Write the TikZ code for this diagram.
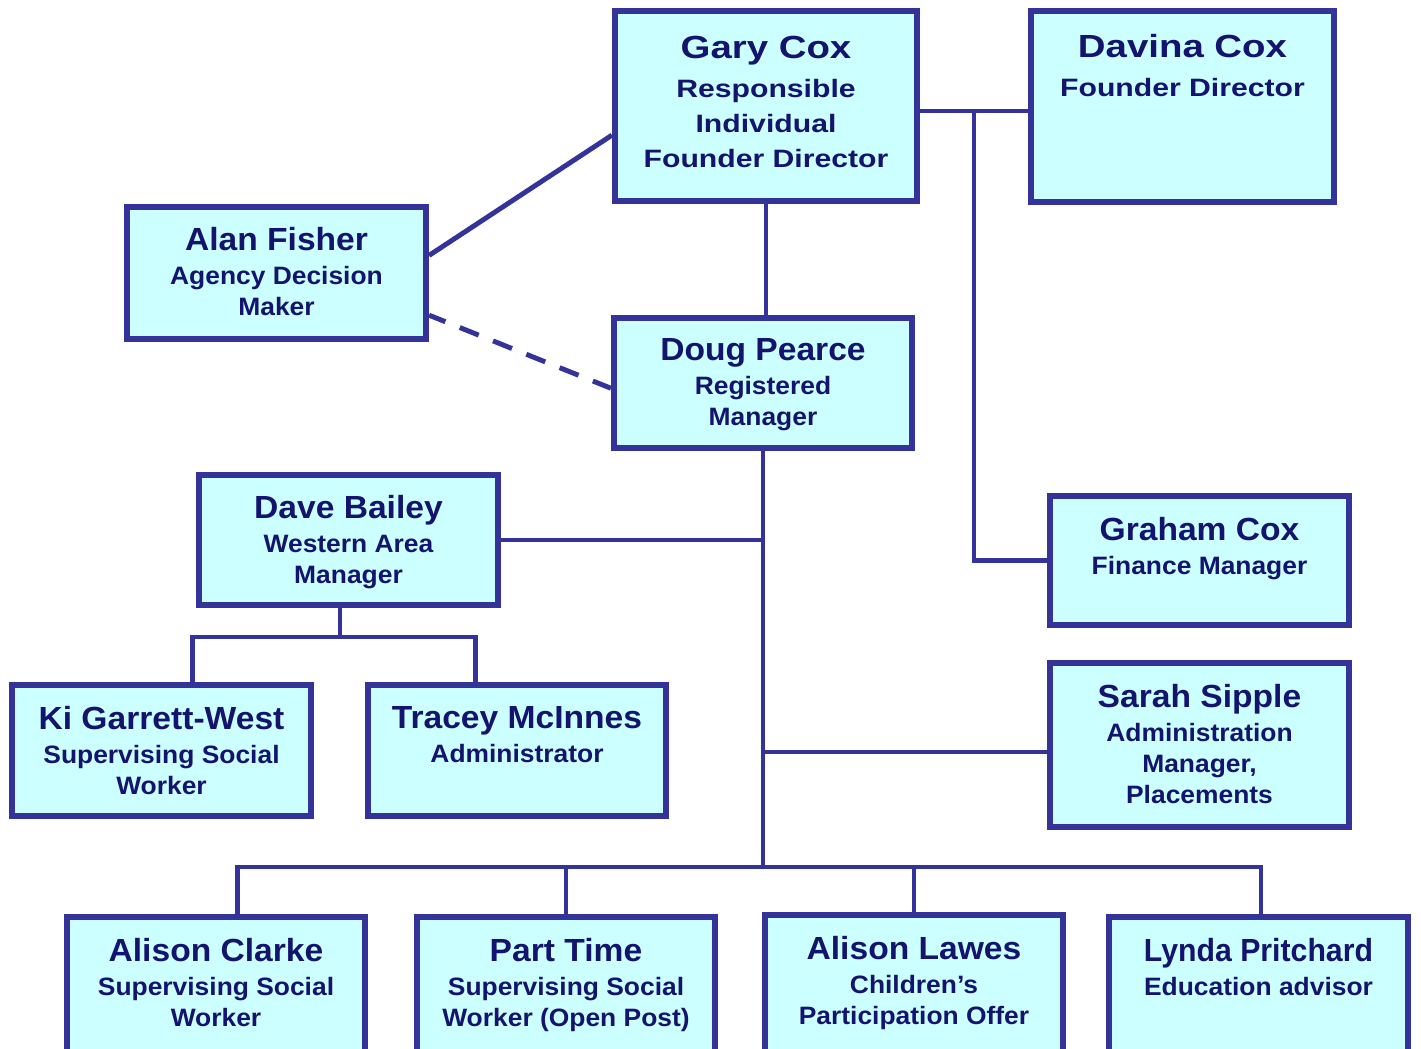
\documentclass[tikz,border=0pt]{standalone}
\usepackage{graphicx}
\usepackage{fontspec}
\newfontfamily\orgfont{Liberation Sans}[FakeStretch=1.05]
\newfontfamily\orgwide{Liberation Sans}[FakeStretch=1.2]
\usetikzlibrary{positioning}
\definecolor{bordc}{HTML}{333399}
\definecolor{boxc}{HTML}{CCFFFF}
\definecolor{inkc}{HTML}{14146E}
\newcommand\who[1]{{\fontsize{9.1}{9.7}\selectfont #1}}

\begin{document}
\begin{tikzpicture}[x=0.01cm, y=-0.01cm,
  box/.style={draw=bordc, fill=boxc, line width=1.7pt, inner sep=0pt},
  txt/.style={align=center, inner sep=0pt, text=inkc, font=\orgfont\bfseries\fontsize{7.15}{8.8}\selectfont},
  wide/.style={font=\orgwide\bfseries\fontsize{7.15}{10}\selectfont},
  link/.style={draw=bordc, line width=1.4pt},
  dashlink/.style={link, dash pattern=on 5.8pt off 4.4pt, dash phase=0.8pt}]
\useasboundingbox (0,0) rectangle (1421,1049);
\clip (0,0) rectangle (1421,1049);
\fill[white] (0,0) rectangle (1421,1049);

\node[box, minimum width=3.02cm, minimum height=1.90cm] (gary) at (766,106) {};
\node[box, minimum width=3.03cm, minimum height=1.91cm] (davina) at (1182.5,106.5) {};
\node[box, minimum width=2.99cm, minimum height=1.32cm] (alan) at (276.5,273) {};
\node[box, minimum width=2.98cm, minimum height=1.30cm] (doug) at (763,383) {};
\node[box, minimum width=2.99cm, minimum height=1.30cm] (dave) at (348.5,540) {};
\node[box, minimum width=2.99cm, minimum height=1.29cm] (graham) at (1199.5,560.5) {};
\node[box, minimum width=2.99cm, minimum height=1.64cm] (sarah) at (1199.5,745) {};
\node[box, minimum width=2.99cm, minimum height=1.31cm] (ki) at (161.5,750.5) {};
\node[box, minimum width=2.98cm, minimum height=1.31cm] (tracey) at (517,750.5) {};
\node[box, minimum width=2.98cm, minimum height=1.50cm] (aclarke) at (216,992) {};
\node[box, minimum width=2.98cm, minimum height=1.50cm] (parttime) at (566,992) {};
\node[box, minimum width=2.98cm, minimum height=1.52cm] (alawes) at (914,991) {};
\node[box, minimum width=2.99cm, minimum height=1.50cm] (lynda) at (1258.5,992) {};

\node[txt, wide, below=7.7pt of gary.north] (garyt) {\who{Gary Cox}\\[1.1pt]Responsible\\Individual\\Founder Director};
\node[txt, wide, below=7.4pt of davina.north] (davinat) {\who{Davina Cox}\\[1.1pt]Founder Director};
\node[txt, below=6.5pt of alan.north] (alant) {\who{Alan Fisher}\\[0.9pt]Agency Decision\\Maker};
\node[txt, below=6.5pt of doug.north] (dougt) {\who{Doug Pearce}\\[0.9pt]Registered\\Manager};
\node[txt, below=6.5pt of dave.north] (davet) {\who{Dave Bailey}\\[0.9pt]Western Area\\Manager};
\node[txt, below=6.8pt of graham.north] (grahamt) {\who{Graham Cox}\\[0.9pt]Finance Manager};
\node[txt, below=6.8pt of sarah.north] (saraht) {\who{Sarah Sipple}\\[0.9pt]Administration\\Manager,\\Placements};
\node[txt, below=6.8pt of ki.north] (kit) {\who{Ki Garrett-West}\\[0.9pt]Supervising Social\\Worker};
\node[txt, below=6.8pt of tracey.north] (traceyt) {\who{Tracey McInnes}\\[0.9pt]Administrator};
\node[txt, below=6.8pt of aclarke.north] (aclarket) {\who{Alison Clarke}\\[0.9pt]Supervising Social\\Worker};
\node[txt, below=6.8pt of parttime.north] (parttimet) {\who{Part Time}\\[0.9pt]Supervising Social\\Worker (Open Post)};
\node[txt, below=6.8pt of alawes.north] (alawest) {\who{Alison Lawes}\\[0.9pt]Children’s\\Participation Offer};
\node[txt, below=6.8pt of lynda.north] (lyndat) {\who{\scalebox{0.9}[1]{Lynda Pritchard}}\\[0.9pt]Education advisor};

\coordinate (split) at (974,111);
\coordinate (bus) at (doug.south |- 0,867);
\coordinate (teamfork) at (340,637);

\draw[link] (gary.east |- split) -- (davina.west |- split);
\draw[link] (split) |- (graham.west);
\draw[link] (gary.south) -- (gary.south |- doug.north);
\draw[link] ([yshift=5pt]alan.east) -- ([yshift=-8.3pt]gary.west);
\draw[dashlink] ([yshift=-12pt]alan.east) -- ([yshift=-1.5pt]doug.west);
\draw[link] (doug.south) -- (bus);
\draw[link] (dave.east) -- (dave.east -| bus);
\draw[link] ([yshift=-2pt]sarah.west) -- ([yshift=-2pt]sarah.west -| bus);
\draw[link] ([xshift=6pt]aclarke.north) |- (bus) -| ([xshift=0.7pt]lynda.north);
\draw[link] (parttime.north) -- (parttime.north |- bus);
\draw[link] (alawes.north) -- (alawes.north |- bus);
\draw[link] (dave.south -| teamfork) -- (teamfork);
\draw[link] ([xshift=8.7pt]ki.north) |- (teamfork) -| ([xshift=-11.9pt]tracey.north);
\end{tikzpicture}
\end{document}
